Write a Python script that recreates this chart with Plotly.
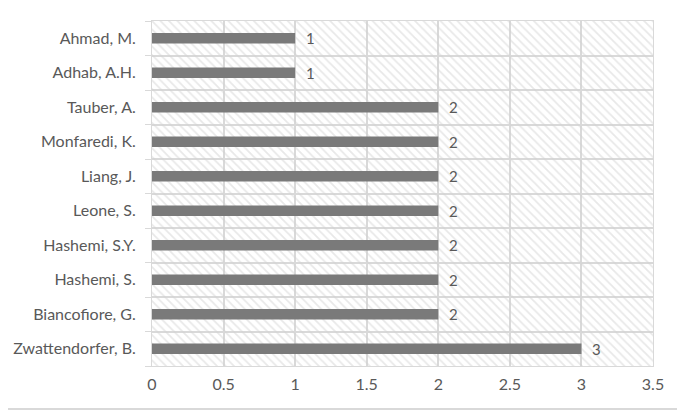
import plotly.graph_objects as go

# authors and number of papers (bottom to top, as drawn)
authors = ['Zwattendorfer, B.', 'Biancofiore, G.', 'Hashemi, S.', 'Hashemi, S.Y.',
           'Leone, S.', 'Liang, J.', 'Monfaredi, K.', 'Tauber, A.',
           'Adhab, A.H.', 'Ahmad, M.']
papers = [3, 2, 2, 2, 2, 2, 2, 2, 1, 1]

xmax = 3.5
grey = '#595959'
gridc = '#d9d9d9'

fig = go.Figure()

# hatched plot background
fig.add_trace(go.Bar(
    y=authors, x=[xmax] * len(authors), orientation='h', width=1,
    marker=dict(color='rgba(0,0,0,0)', line_width=0,
                pattern=dict(shape='\\', fgcolor='#d2d2d2', size=6,
                             solidity=0.3, fillmode='overlay')),
    hoverinfo='skip', showlegend=False
))

fig.add_trace(go.Bar(
    y=authors, x=papers, orientation='h', width=0.3,
    marker=dict(color='#7a7a7a', line_width=0),
    showlegend=False
))

# value labels next to the bar ends
for a, v in zip(authors, papers):
    fig.add_annotation(x=v, y=a, text=str(v), showarrow=False,
                       xshift=15, font=dict(size=15, color=grey))

# page is drawn with an 8px body margin, so the figure is 8px smaller
fig.update_layout(
    width=677, height=403,
    margin=dict(l=144, r=32, t=13, b=45, autoexpand=False),
    barmode='overlay',
    plot_bgcolor='white', paper_bgcolor='white',
    font=dict(family='Lato, Open Sans, sans-serif', size=16, color=grey),
    xaxis=dict(range=[0, xmax], dtick=0.5, showgrid=True, gridcolor=gridc,
               gridwidth=1.5, zeroline=False, showline=True, linecolor=gridc,
               mirror=True, ticks='', ticklabelstandoff=4, automargin=False),
    yaxis=dict(type='category', categoryorder='array', categoryarray=authors,
               tickson='boundaries', showgrid=True, gridcolor=gridc,
               gridwidth=1.5, ticks='outside', ticklen=6, tickcolor=gridc,
               showline=True, linecolor=gridc, mirror=True,
               ticklabelstandoff=12, automargin=False),
    shapes=[
        # chart-area border (right and bottom sides)
        dict(type='rect', xref='paper', yref='paper',
             x0=1 + 26 / 501, x1=1 + 28 / 501, y0=-44 / 345, y1=1 + 13 / 345,
             fillcolor=gridc, line_width=0),
        dict(type='rect', xref='paper', yref='paper',
             x0=-144 / 501, x1=1 + 28 / 501, y0=-44 / 345, y1=-42 / 345,
             fillcolor=gridc, line_width=0),
    ]
)

fig.write_html("out.html")
